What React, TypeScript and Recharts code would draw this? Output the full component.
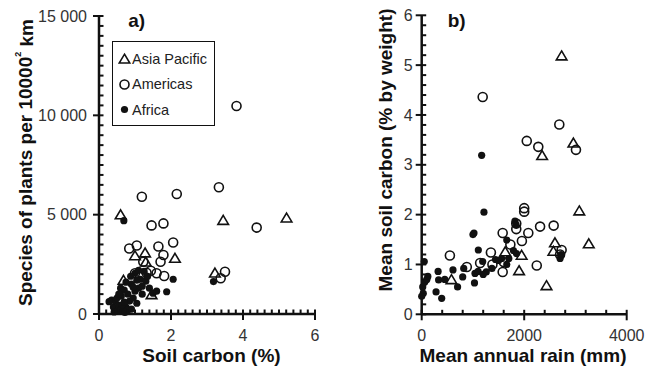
import { ScatterChart, Scatter, XAxis, YAxis, Legend, Label } from "recharts"

const font = "'Liberation Sans', Arial, Helvetica, sans-serif"
const ink = "#111"
const tickInk = "#333"

const regions = ["Asia Pacific", "Americas", "Africa"]

// a) soil carbon (%) vs species of plants per 10000 km2
const asiaCarbon = [0.6, 3.45, 5.21, 2.11, 1.28, 1.0, 3.22, 0.68, 1.46, 1.3]
const asiaSpecies = [4980, 4700, 4820, 2790, 3060, 2920, 2050, 1680, 960, 2600]

const americasCarbon = [3.82, 3.33, 1.19, 2.16, 1.46, 1.79, 4.38, 0.84, 1.05, 1.65, 2.06, 1.79, 1.71, 3.5, 3.38, 1.44, 1.6, 1.81, 1.23, 1.32, 1.14, 1.0]
const americasSpecies = [10470, 6380, 5900, 6040, 4460, 4560, 4350, 3300, 3450, 3400, 3600, 2970, 2630, 2130, 1800, 2180, 2050, 1910, 2630, 2080, 1910, 2050]

const africaCarbon = [0.69, 2.06, 1.88, 3.18, 1.05, 0.35, 0.4, 0.45, 0.5, 0.55, 0.6, 0.62, 0.7, 0.75, 0.8, 0.85, 0.9, 0.95, 1.0, 1.1, 1.15, 1.2, 1.25, 1.3, 1.4, 1.5, 1.6, 0.6, 0.75, 0.88, 1.0, 0.5, 0.65, 0.9, 0.8, 1.35, 1.1, 0.7, 0.55, 0.28, 0.42, 0.72, 1.2, 1.05, 0.95]
const africaSpecies = [4700, 1750, 1120, 1630, 540, 700, 350, 650, 150, 450, 200, 900, 1200, 350, 1000, 650, 1500, 800, 2050, 1300, 1750, 1000, 2150, 1650, 1300, 1050, 1150, 1300, 1600, 1900, 1150, 800, 450, 250, 200, 1900, 2200, 600, 1000, 620, 100, 80, 1400, 1700, 1350]

// b) mean annual rain (mm) vs mean soil carbon (%)
const asiaRain = [2730, 2960, 2350, 3075, 3260, 2600, 2570, 1950, 1900, 2435, 1630, 580]
const asiaSoil = [5.18, 3.43, 3.18, 2.07, 1.41, 1.43, 1.26, 1.18, 0.87, 0.57, 1.25, 0.69]

const americasRain = [1190, 2685, 2050, 2275, 3010, 2000, 2000, 2310, 2575, 2080, 1580, 1845, 1845, 1955, 1730, 1350, 550, 880, 1140, 1380, 1580, 2245, 2730, 2700, 1600]
const americasSoil = [4.36, 3.81, 3.48, 3.36, 3.3, 2.13, 2.06, 1.76, 1.78, 1.63, 1.63, 1.82, 1.71, 1.47, 1.4, 1.24, 1.18, 0.95, 1.03, 1.0, 0.85, 0.98, 1.29, 1.2, 1.05]

const africaRain = [1170, 1215, 1020, 1000, 1105, 1820, 1840, 1660, 1790, 2700, 2720, 50, 30, 0, 60, 100, 120, 20, 320, 330, 390, 280, 450, 610, 700, 800, 820, 1030, 1040, 1100, 1190, 1260, 1370, 1440, 1560, 1660, 1700, 1850, 1200, 1500]
const africaSoil = [3.19, 2.05, 1.63, 1.6, 1.29, 1.87, 1.8, 1.49, 1.28, 1.12, 1.2, 1.06, 0.42, 0.36, 0.65, 0.7, 0.76, 0.55, 0.86, 0.69, 0.32, 0.45, 0.7, 0.89, 0.55, 0.75, 0.92, 0.63, 0.82, 0.86, 1.06, 0.85, 0.92, 1.1, 1.12, 1.0, 1.12, 1.22, 0.8, 1.08]

// axis ticks
const speciesMajor = [0, 5000, 10000, 15000]
const carbonMajor = [0, 2, 4, 6]
const soilMajor = [0, 1, 2, 3, 4, 5, 6]
const rainMajor = [0, 2000, 4000]

const pairs = (xs: number[], ys: number[]) => xs.map((x, i) => ({ x, y: ys[i] }))

// all minor positions from 0 up to the last major tick
const withMinor = (major: number[], step: number) => {
  const out: number[] = []
  const last = major[major.length - 1]
  for (let i = 0; i * step <= last + 1e-9; i++) out.push(+(i * step).toFixed(4))
  return out
}
const isMajor = (v: number, major: number[]) => major.some((m) => Math.abs(m - v) < 1e-6)

const fmtThousands = (v: number) =>
  v < 1000 ? String(v) : `${Math.floor(v / 1000)} ${String(v % 1000).padStart(3, "0")}`

const triangle = (p: any) => (
  <path
    d={`M${p.cx},${p.cy - 5.2}L${p.cx + 5.3},${p.cy + 3.7}L${p.cx - 5.3},${p.cy + 3.7}Z`}
    fill="none"
    stroke={ink}
    strokeWidth={1.6}
  />
)
const ring = (p: any) => <circle cx={p.cx} cy={p.cy} r={4.5} fill="none" stroke={ink} strokeWidth={1.6} />
const dot = (p: any) => <circle cx={p.cx} cy={p.cy} r={3.6} fill={ink} />

function makeYTick(major: number[], gap: number, fmt: (v: number) => string) {
  return (p: any) => {
    const { x, y, payload } = p
    const big = isMajor(payload.value, major)
    return (
      <g>
        <line x1={big ? x - 6 : x} x2={x + 4.5} y1={y} y2={y} stroke={ink} strokeWidth={2} />
        {big && (
          <text x={x - gap} y={y + 5.6} textAnchor="end" fill={tickInk} fontSize={16} fontFamily={font}>
            {fmt(payload.value)}
          </text>
        )}
      </g>
    )
  }
}

function makeXTick(major: number[]) {
  return (p: any) => {
    const { x, y, payload } = p
    const big = isMajor(payload.value, major)
    return (
      <g>
        <line x1={x} x2={x} y1={y - 4.5} y2={big ? y + 6 : y} stroke={ink} strokeWidth={2} />
        {big && (
          <text x={x} y={y + 27} textAnchor="middle" fill={tickInk} fontSize={16} fontFamily={font}>
            {payload.value}
          </text>
        )}
      </g>
    )
  }
}

const titleStyle = { fontFamily: font, fontSize: 19, fontWeight: 700, fill: ink }

function LegendBox() {
  const icons = [
    <path key="t" d="M6.5,2.2L11.8,11L1.2,11Z" fill="none" stroke={ink} strokeWidth={1.6} />,
    <circle key="c" cx={6.5} cy={6.5} r={4.5} fill="none" stroke={ink} strokeWidth={1.6} />,
    <circle key="d" cx={6.5} cy={6.5} r={3.6} fill={ink} />,
  ]
  return (
    <div
      style={{
        position: "relative",
        boxSizing: "border-box",
        width: 103,
        height: 85,
        border: `1.5px solid ${ink}`,
        background: "#fff",
        fontFamily: font,
        fontSize: 14.5,
        color: "#222",
      }}
    >
      {regions.map((r, i) => (
        <div
          key={r}
          style={{
            position: "absolute",
            left: 4.5,
            top: 8.5 + i * 25.5,
            height: 16,
            display: "flex",
            alignItems: "center",
            whiteSpace: "nowrap",
          }}
        >
          <svg width={13} height={13} style={{ display: "block" }}>
            {icons[i]}
          </svg>
          <span style={{ marginLeft: 1.5 }}>{r}</span>
        </div>
      ))}
    </div>
  )
}

export default function App() {
  return (
    <div style={{ position: "absolute", left: 0, top: 0, width: 660, height: 367, background: "#fff", display: "flex" }}>
      <ScatterChart width={330} height={367} margin={{ top: 16, right: 15, bottom: 0, left: 0 }}>
        <XAxis
          type="number"
          dataKey="x"
          domain={[0, 6]}
          ticks={withMinor(carbonMajor, 0.2)}
          interval={0}
          height={53}
          tickSize={0}
          tickMargin={0}
          tickLine={false}
          axisLine={{ stroke: ink, strokeWidth: 2.5 }}
          tick={makeXTick(carbonMajor)}
        >
          <Label
            content={() => (
              <text x={211.5} y={362} textAnchor="middle" {...titleStyle}>
                Soil carbon (%)
              </text>
            )}
          />
        </XAxis>
        <YAxis
          type="number"
          dataKey="y"
          domain={[0, 15000]}
          ticks={withMinor(speciesMajor, 500)}
          interval={0}
          width={99}
          tickSize={0}
          tickMargin={0}
          tickLine={false}
          axisLine={{ stroke: ink, strokeWidth: 2.5 }}
          tick={makeYTick(speciesMajor, 12, fmtThousands)}
        >
          <Label
            content={() => (
              <g>
                <text transform="translate(25.5,162.5) rotate(-90)" textAnchor="middle" dominantBaseline="central" {...titleStyle}>
                  Species of plants per 10000
                  <tspan fontSize={9} dy={-8}>2</tspan>
                  <tspan dy={8}> km</tspan>
                </text>
                <text x={136.7} y={26.5} textAnchor="middle" {...titleStyle}>
                  a)
                </text>
              </g>
            )}
          />
        </YAxis>
        <Legend
          layout="vertical"
          align="center"
          verticalAlign="middle"
          wrapperStyle={{ left: 112, top: 41, width: 103, height: 85 }}
          content={() => <LegendBox />}
        />
        <Scatter name={regions[0]} data={pairs(asiaCarbon, asiaSpecies)} shape={triangle} isAnimationActive={false} />
        <Scatter name={regions[1]} data={pairs(americasCarbon, americasSpecies)} shape={ring} isAnimationActive={false} />
        <Scatter name={regions[2]} data={pairs(africaCarbon, africaSpecies)} shape={dot} isAnimationActive={false} />
      </ScatterChart>

      <ScatterChart width={330} height={367} margin={{ top: 15.3, right: 33.3, bottom: 0, left: 0 }}>
        <XAxis
          type="number"
          dataKey="x"
          domain={[0, 4000]}
          ticks={withMinor(rainMajor, 400)}
          interval={0}
          height={52.7}
          tickSize={0}
          tickMargin={0}
          tickLine={false}
          axisLine={{ stroke: ink, strokeWidth: 2.5 }}
          tick={makeXTick(rainMajor)}
        >
          <Label
            content={() => (
              <text x={193} y={362} textAnchor="middle" {...titleStyle}>
                Mean annual rain (mm)
              </text>
            )}
          />
        </XAxis>
        <YAxis
          type="number"
          dataKey="y"
          domain={[0, 6]}
          ticks={withMinor(soilMajor, 0.2)}
          interval={0}
          width={91.7}
          tickSize={0}
          tickMargin={0}
          tickLine={false}
          axisLine={{ stroke: ink, strokeWidth: 2.5 }}
          tick={makeYTick(soilMajor, 9, (v) => String(v))}
        >
          <Label
            content={() => (
              <g>
                <text transform="translate(55,150) rotate(-90)" textAnchor="middle" dominantBaseline="central" {...titleStyle}>
                  Mean soil carbon (% by weight)
                </text>
                <text x={126.7} y={26.5} textAnchor="middle" {...titleStyle}>
                  b)
                </text>
              </g>
            )}
          />
        </YAxis>
        <Scatter name={regions[0]} data={pairs(asiaRain, asiaSoil)} shape={triangle} isAnimationActive={false} />
        <Scatter name={regions[1]} data={pairs(americasRain, americasSoil)} shape={ring} isAnimationActive={false} />
        <Scatter name={regions[2]} data={pairs(africaRain, africaSoil)} shape={dot} isAnimationActive={false} />
      </ScatterChart>
    </div>
  )
}
